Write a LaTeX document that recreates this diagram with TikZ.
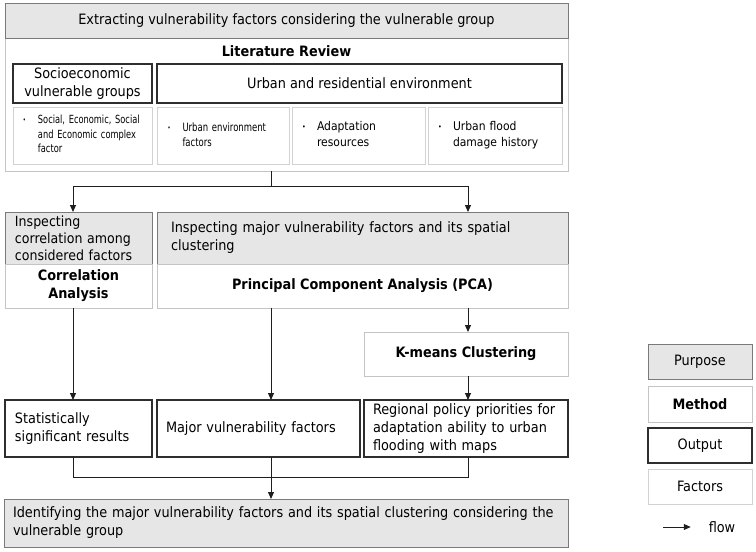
\documentclass[tikz,border=0pt]{standalone}
\usepackage{fontspec}
\setmainfont{DejaVu Sans Condensed}
\newfontfamily\squeezefont{DejaVu Sans Condensed}[FakeStretch=0.82]
\usetikzlibrary{positioning,arrows.meta}
\definecolor{purfill}{HTML}{E6E6E6}
\definecolor{purdraw}{HTML}{7A7A7A}
\definecolor{methdraw}{HTML}{C4C4C4}
\definecolor{factdraw}{HTML}{D2D2D2}
\definecolor{outdraw}{HTML}{2E2E2E}
\definecolor{flowcol}{HTML}{1E1E1E}
\newcommand{\fitem}[1]{\makebox[15pt][l]{\raisebox{1pt}{\scriptsize\textbullet}}\begin{tabular}[t]{@{}l@{}}#1\end{tabular}}
\newcommand{\mainsize}{\fontsize{14.3}{18}\selectfont}

\begin{document}
\begin{tikzpicture}[x=1pt,y=-1pt,
  font=\mainsize,
  every node/.style={outer sep=0pt,inner sep=0pt},
  purpose/.style={draw=purdraw,fill=purfill,line width=0.8pt},
  method/.style={draw=methdraw,fill=white,line width=0.8pt},
  output/.style={draw=outdraw,fill=white,line width=1.2pt},
  factor/.style={draw=factdraw,fill=white,line width=0.8pt},
  bold/.style={font=\mainsize\bfseries},
  line/.style={draw=flowcol,line width=1pt},
  flow/.style={line,-{Triangle[length=7pt,width=6pt]}}]
\useasboundingbox (0,0) rectangle (756,552);

\node[method,minimum width=563,minimum height=133] (lit) at (286.5,104.5) {};
\node[purpose,minimum width=563,minimum height=35] (t) at (286.5,20.5) {Extracting vulnerability factors considering the vulnerable group};
\node[bold] (lr) at (286.5,51) {Literature Review};
\node[output,minimum width=139,minimum height=39,align=center] (se) at (82.5,83.5) {Socioeconomic\\vulnerable groups};
\node[output,minimum width=405,minimum height=39] (ur) at (359.5,83.5) {Urban and residential environment};
\node[factor,minimum height=57,text width=119,inner xsep=10,align=left,font=\fontsize{11.2}{14.5}\squeezefont] (f1) at (82.5,135.5) {\fitem{Social, Economic, Social\\and Economic complex\\factor}};
\node[factor,minimum height=57,text width=112,inner xsep=10,align=left,font=\fontsize{11.5}{15}\squeezefont] (f2) at (223.5,135.5) {\fitem{Urban environment\\factors}};
\node[factor,minimum height=57,text width=113,inner xsep=10,align=left,font=\fontsize{12}{15.5}\selectfont] (f3) at (358.5,135.5) {\fitem{Adaptation\\resources}};
\node[factor,minimum height=57,text width=114,inner xsep=10,align=left,font=\fontsize{12}{15.5}\selectfont] (f4) at (495,135.5) {\fitem{Urban flood\\damage history}};

\node[purpose,minimum height=52,text width=127,inner xsep=10,align=left,font=\fontsize{14}{16.8}\selectfont] (i1) at (78.5,238) {Inspecting\\correlation among\\considered factors};
\node[method,bold,below=0pt of i1,minimum height=44,minimum width=147,align=center] (ca) {Correlation\\Analysis};
\node[purpose,minimum height=52,text width=383,inner xsep=14,align=left] (i2) at (362.5,238) {Inspecting major vulnerability factors and its spatial\\clustering};
\node[method,bold,below=0pt of i2,minimum height=44,minimum width=411] (pca) {Principal Component Analysis (PCA)};
\node[method,bold,minimum height=44,minimum width=204] (km) at (466,354) {K-means Clustering};

\node[output,minimum height=57,text width=127,inner xsep=10,align=left] (o1) at (78.5,428.5) {Statistically\\significant results};
\node[output,minimum height=57,text width=185,inner xsep=9,align=left] (o2) at (258.5,428.5) {Major vulnerability factors};
\node[output,minimum height=57,text width=186,inner xsep=9,align=left] (o3) at (466,428.5) {Regional policy priorities for\\adaptation ability to urban\\flooding with maps};
\node[purpose,minimum height=48,text width=546,inner xsep=9,align=left] (id) at (286,523) {Identifying the major vulnerability factors and its spatial clustering considering the\\vulnerable group};

\coordinate (xl) at (73,0);
\coordinate (xr) at (468,0);
\coordinate (sp) at (271,186);
\coordinate (jn) at (271,477);
\draw[line] (lit.south -| sp) -- (sp);
\draw[flow] (sp) -| (i1.north -| xl);
\draw[flow] (sp) -| (i2.north -| xr);
\draw[flow] (ca.south -| xl) -- (o1.north -| xl);
\draw[flow] (pca.south -| sp) -- (o2.north -| sp);
\draw[flow] (pca.south -| xr) -- (km.north -| xr);
\draw[flow] (km.south -| xr) -- (o3.north -| xr);
\draw[line] (o1.south -| xl) |- (jn);
\draw[line] (o3.south -| xr) |- (jn);
\draw[flow] (o2.south -| jn) -- (id.north -| jn);

\node[purpose,minimum width=104,minimum height=35] (lp) at (700,361.5) {Purpose};
\node[method,bold,below=7pt of lp,minimum width=104,minimum height=36] (lm) {Method};
\node[output,below=6pt of lm,minimum width=104,minimum height=35] (lo) {Output};
\node[factor,below=6pt of lo,minimum width=104,minimum height=35] (lf) {Factors};
\node (fl) at (722,527) {flow};
\coordinate (fa) at (663,527);
\draw[flow] (fa) -- ([xshift=-18]fl.west);
\end{tikzpicture}
\end{document}
